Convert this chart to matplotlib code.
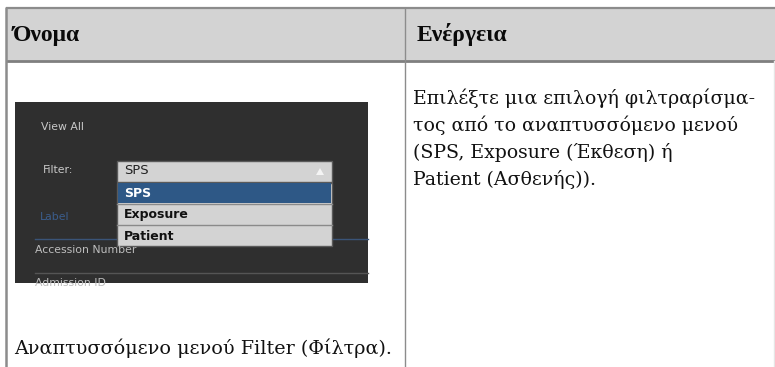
import matplotlib
matplotlib.use("Agg")
import matplotlib.pyplot as plt
from matplotlib.patches import Rectangle, Polygon

# ---- content ----
headers = ["Όνομα", "Ενέργεια"]
action_lines = [
    "Επιλέξτε μια επιλογή φιλτραρίσμα-",
    "τος από το αναπτυσσόμενο μενού",
    "(SPS, Exposure (Έκθεση) ή",
    "Patient (Ασθενής)).",
]
caption = "Αναπτυσσόμενο μενού Filter (Φίλτρα)."
ui_view_all = "View All"
ui_filter_label = "Filter:"
dropdown_selected = "SPS"
dropdown_options = ["SPS", "Exposure", "Patient"]
highlight_index = 0
ui_columns = ["Label", "Accession Number", "Admission ID"]

W, H = 775, 367
fig = plt.figure(figsize=(W / 100, H / 100), dpi=100)
ax = fig.add_axes([0, 0, 1, 1])
ax.set_xlim(0, W)
ax.set_ylim(H, 0)
ax.axis("off")

serif = ["DejaVu Serif"]
hdr_font = ["Liberation Serif"]
ui_font = ["DejaVu Sans"]

# ---- table frame ----
ax.add_patch(Rectangle((6, 7), W - 6, 54, facecolor="#d3d3d3", edgecolor="none"))
ax.plot([6, W], [7.5, 7.5], color="#8c8c8c", lw=1.6, solid_capstyle="butt")
ax.plot([6, W], [61, 61], color="#7f7f7f", lw=2.0, solid_capstyle="butt")
ax.plot([6, 6], [7, H], color="#8c8c8c", lw=1.8, solid_capstyle="butt")
ax.plot([405, 405], [7, H], color="#8c8c8c", lw=1.0, solid_capstyle="butt")
ax.plot([773.5, 773.5], [61, H], color="#e6e6e6", lw=1.0)

ax.text(13, 35, headers[0], fontsize=17, fontweight="bold", family=hdr_font,
        ha="left", va="center", color="#0a0a0a")
ax.text(417, 35, headers[1], fontsize=17, fontweight="bold", family=hdr_font,
        ha="left", va="center", color="#0a0a0a")

# ---- action text ----
for i, line in enumerate(action_lines):
    ax.text(413, 98 + i * 27.3, line, fontsize=13.6, family=serif,
            ha="left", va="center", color="#111111")

ax.text(14, 348, caption, fontsize=13.8, family=serif,
        ha="left", va="center", color="#111111")

# ---- screenshot ----
ax.add_patch(Rectangle((15, 102), 353, 181, facecolor="#2f2f2f", edgecolor="none"))
ax.text(41, 127, ui_view_all, fontsize=7.8, family=ui_font, color="#c9c9c9",
        ha="left", va="center")
ax.text(43, 170, ui_filter_label, fontsize=7.8, family=ui_font, color="#c9c9c9",
        ha="left", va="center")
ax.text(40, 217, ui_columns[0], fontsize=7.8, family=ui_font, color="#3b5d8c",
        ha="left", va="center")
ax.plot([35, 368], [238.5, 238.5], color="#3a5478", lw=1.0)
ax.text(35, 250, ui_columns[1], fontsize=7.8, family=ui_font, color="#bdbdbd",
        ha="left", va="center")
ax.plot([35, 368], [272.5, 272.5], color="#555555", lw=1.0)
ax.text(35, 283, ui_columns[2], fontsize=7.8, family=ui_font, color="#bdbdbd",
        ha="left", va="center").set_clip_path(
    Rectangle((15, 102), 353, 181, transform=ax.transData))

# dropdown box
ax.add_patch(Rectangle((117, 160.5), 215, 21, facecolor="#d3d3d3",
                       edgecolor="#5a5a5a", lw=1.0))
ax.text(124, 171, dropdown_selected, fontsize=9.4, family=ui_font, color="#222222",
        ha="left", va="center")
ax.add_patch(Polygon([[316, 175], [324, 175], [320, 168]], closed=True,
                     facecolor="#f4f4f4", edgecolor="none"))

# options list
top = 182.5
item_h = 21.3
ax.add_patch(Rectangle((117, top), 215, item_h * len(dropdown_options),
                       facecolor="#d3d3d3", edgecolor="#5a5a5a", lw=1.0, zorder=2))
for i, opt in enumerate(dropdown_options):
    y0 = top + i * item_h
    if i == highlight_index:
        ax.add_patch(Rectangle((118, y0 + 0.5), 213, item_h - 1, facecolor="#2e5886",
                               edgecolor="none", zorder=3))
        col = "#ffffff"
    else:
        col = "#111111"
    if i > 0:
        ax.plot([117, 332], [y0, y0], color="#8a8a8a", lw=1.0, zorder=3)
    ax.text(124, y0 + item_h / 2 + 0.5, opt, fontsize=9.0, fontweight="bold",
            family=ui_font, color=col, ha="left", va="center", zorder=4)

fig.savefig("out.png", dpi=100, facecolor="white")
